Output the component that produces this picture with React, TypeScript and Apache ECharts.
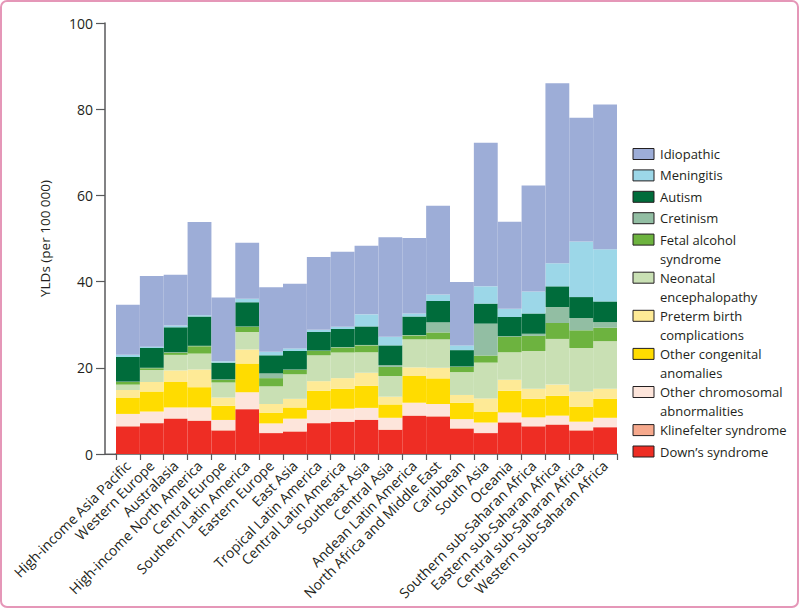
import React, { useEffect, useRef } from "react";
import * as echarts from "echarts";

const regions = [
  "High-income Asia Pacific", "Western Europe", "Australasia", "High-income North America",
  "Central Europe", "Southern Latin America", "Eastern Europe", "East Asia",
  "Tropical Latin America", "Central Latin America", "Southeast Asia", "Central Asia",
  "Andean Latin America", "North Africa and Middle East", "Caribbean", "South Asia",
  "Oceania", "Southern sub-Saharan Africa", "Eastern sub-Saharan Africa",
  "Central sub-Saharan Africa", "Western sub-Saharan Africa",
];

const downs = [6.4, 7.15, 8.2, 7.7, 5.45, 10.4, 4.85, 5.2, 7.15, 7.45, 7.9, 5.6, 8.85, 8.7, 5.9, 4.85, 7.3, 6.4, 6.8, 5.45, 6.2];
const klinefelter = [0.1, 0.1, 0.1, 0.1, 0.1, 0.1, 0.1, 0.1, 0.1, 0.1, 0.1, 0.1, 0.1, 0.1, 0.1, 0.1, 0.1, 0.1, 0.1, 0.1, 0.1];
const otherChromosomal = [2.8, 2.6, 2.5, 3.0, 2.35, 3.8, 2.15, 2.9, 2.95, 2.95, 2.7, 2.7, 2.95, 2.8, 2.1, 2.35, 2.2, 2.0, 2.0, 1.95, 2.1];
const otherCongenital = [3.8, 4.65, 5.9, 4.7, 3.3, 6.7, 2.5, 2.6, 4.5, 4.65, 5.15, 3.1, 6.2, 5.95, 3.8, 2.55, 5.1, 4.3, 4.6, 3.5, 4.45];
const preterm = [1.75, 2.2, 2.7, 4.1, 1.9, 3.25, 2.0, 2.0, 2.2, 2.45, 3.0, 1.8, 2.0, 2.45, 1.8, 3.05, 2.5, 2.35, 2.6, 3.5, 2.3];
const neonatal = [1.25, 2.8, 3.6, 3.7, 3.5, 4.05, 4.1, 5.7, 6.0, 5.95, 4.75, 4.8, 6.5, 6.6, 5.3, 8.3, 6.4, 8.75, 10.6, 10.1, 11.05];
const fetalAlcohol = [0.6, 0.4, 0.5, 1.7, 0.6, 1.2, 1.9, 1.0, 1.0, 1.15, 1.6, 2.1, 0.9, 1.6, 1.2, 1.65, 3.6, 3.5, 3.7, 4.1, 3.1];
const cretinism = [0.1, 0.1, 0.1, 0.1, 0.1, 0.1, 1.1, 0.1, 0.1, 0.1, 0.1, 0.4, 0.1, 2.35, 0.1, 7.4, 0.1, 0.5, 3.7, 2.85, 1.3];
const autism = [5.7, 4.6, 5.8, 6.8, 3.9, 5.6, 4.2, 4.3, 4.3, 4.2, 4.3, 4.6, 4.3, 4.95, 3.8, 4.65, 4.5, 4.7, 4.8, 4.85, 4.8];
const meningitis = [0.5, 0.3, 0.4, 0.3, 0.3, 0.8, 0.8, 0.6, 0.5, 0.5, 2.8, 2.0, 0.7, 1.5, 1.1, 4.0, 1.9, 5.1, 5.35, 12.9, 12.1];
const idiopathic = [11.6, 16.4, 11.8, 21.6, 14.8, 13.0, 15.0, 15.0, 16.9, 17.4, 15.9, 23.1, 17.5, 20.6, 14.7, 33.3, 20.2, 24.6, 41.75, 28.7, 33.6];

const yTicks = [0, 20, 40, 60, 80, 100];

// bottom-to-top stacking order
const seriesDefs = [
  { name: "Down’s syndrome", label: "Down’s syndrome", data: downs, color: "#ee2d24" },
  { name: "Klinefelter syndrome", label: "Klinefelter syndrome", data: klinefelter, color: "#f6a98d" },
  { name: "Other chromosomal abnormalities", label: "Other chromosomal\nabnormalities", data: otherChromosomal, color: "#fde5db" },
  { name: "Other congenital anomalies", label: "Other congenital\nanomalies", data: otherCongenital, color: "#ffdc00" },
  { name: "Preterm birth complications", label: "Preterm birth\ncomplications", data: preterm, color: "#feea96" },
  { name: "Neonatal encephalopathy", label: "Neonatal\nencephalopathy", data: neonatal, color: "#c9e0b4" },
  { name: "Fetal alcohol syndrome", label: "Fetal alcohol\nsyndrome", data: fetalAlcohol, color: "#6db33f" },
  { name: "Cretinism", label: "Cretinism", data: cretinism, color: "#92bea3" },
  { name: "Autism", label: "Autism", data: autism, color: "#006c3b" },
  { name: "Meningitis", label: "Meningitis", data: meningitis, color: "#9cd7e8" },
  { name: "Idiopathic", label: "Idiopathic", data: idiopathic, color: "#9dadd7" },
];

const FONT = "'Open Sans', 'Noto Sans', sans-serif";
const TEXT = "#231f20";
const AXIS = "#58595b";

export default function App() {
  const ref = useRef<HTMLDivElement>(null);

  useEffect(() => {
    const chart = echarts.init(ref.current!, null, { renderer: "svg" });

    // legend drawn as graphic (top item = Idiopathic)
    const legendItems: any[] = [];
    let cy = 154;
    const legendOrder = [...seriesDefs].reverse();
    legendOrder.forEach((s) => {
      const lines = s.label.split("\n").length;
      legendItems.push({
        type: "rect",
        shape: { x: 633, y: cy - 5.5, width: 21, height: 11 },
        style: { fill: s.color, stroke: "#231f20", lineWidth: 1 },
      });
      legendItems.push({
        type: "text",
        x: 660,
        y: cy - 9.5,
        style: {
          text: s.label,
          font: `13px ${FONT}`,
          fill: TEXT,
          lineHeight: 19,
          verticalAlign: "top",
          align: "left",
        },
      });
      cy += lines === 1 ? 21.4 : 38.1;
    });

    const option: any = {
      animation: false,
      backgroundColor: "#ffffff",
      textStyle: { fontFamily: FONT },
      grid: { left: 116, right: 183, top: 23, bottom: 155, containLabel: false },
      xAxis: {
        type: "category",
        data: regions,
        boundaryGap: true,
        axisLine: { show: true, lineStyle: { color: AXIS, width: 1.5 } },
        axisTick: { show: true, length: 6, lineStyle: { color: AXIS, width: 1.2 } },
        axisLabel: {
          interval: 0,
          rotate: 45,
          margin: 9,
          fontSize: 14,
          color: TEXT,
          fontFamily: FONT,
        },
      },
      yAxis: {
        type: "value",
        min: 0,
        max: 100,
        interval: 20,
        offset: 11,
        name: "YLDs (per 100 000)",
        nameLocation: "middle",
        nameGap: 53,
        nameRotate: 90,
        nameTextStyle: { fontSize: 13.5, color: TEXT, fontFamily: FONT },
        axisLine: { show: true, lineStyle: { color: AXIS, width: 1.5 } },
        axisTick: { show: true, length: 9, lineStyle: { color: AXIS, width: 1.2 } },
        axisLabel: {
          margin: 12,
          fontSize: 14,
          color: TEXT,
          fontFamily: FONT,
          formatter: (v: number) => (yTicks.includes(v) ? String(v) : ""),
        },
        splitLine: { show: false },
      },
      series: seriesDefs.map((s) => ({
        name: s.name,
        type: "bar",
        stack: "total",
        barCategoryGap: "0%",
        barGap: "0%",
        data: s.data,
        itemStyle: { color: s.color, borderWidth: 0 },
        emphasis: { disabled: true },
      })),
      graphic: [
        {
          type: "rect",
          shape: { x: 1, y: 1, width: 797, height: 606, r: 6 },
          style: { fill: "none", stroke: "#e597b8", lineWidth: 2 },
          silent: true,
        },
        {
          type: "line",
          shape: { x1: 105, y1: 454.3, x2: 116, y2: 454.3 },
          style: { stroke: AXIS, lineWidth: 1.5 },
        },
        ...legendItems,
      ],
    };

    chart.setOption(option);
    return () => chart.dispose();
  }, []);

  return (
    <div
      ref={ref}
      style={{ position: "absolute", left: 0, top: 0, width: 800, height: 609 }}
    />
  );
}
